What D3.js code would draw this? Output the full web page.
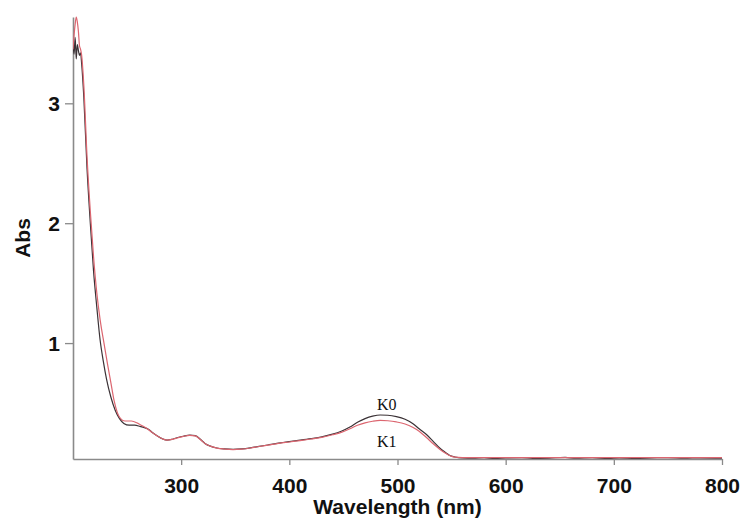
<!DOCTYPE html>
<html>
<head>
<meta charset="utf-8">
<script src="https://cdn.jsdelivr.net/npm/d3@7/dist/d3.min.js"></script>
<style>
    body { margin: 0; background: #fff; }
    svg { display: block; }
    .tickLabel { font-family: "Liberation Sans", Arial, sans-serif; font-weight: bold; font-size: 21px; fill: #111; }
    .curveLabel { font-family: "Liberation Serif", "Times New Roman", serif; font-size: 16px; fill: #111; }
</style>
</head>
<body>
<div id="chartDiv"></div>
<script>
// spectra (nm / Abs)
var k0Wavelength = [200, 201, 202, 203, 204, 205, 206, 207, 208, 210, 213, 216, 219, 222, 225, 228, 231, 235, 239, 243, 247, 252, 257, 262, 266, 270, 274, 278, 283, 287, 292, 297, 302, 308, 313, 318, 322, 327, 333, 340, 348, 356, 364, 372, 380, 390, 400, 410, 420, 430, 440, 448, 456, 463, 470, 477, 484, 491, 499, 507, 514, 520, 527, 533, 539, 544, 548, 553, 560, 570, 580, 590, 600, 615, 625, 640, 655, 665, 680, 695, 705, 720, 735, 750, 765, 780, 800];
var k0Abs = [3.50, 3.41, 3.55, 3.37, 3.49, 3.44, 3.40, 3.42, 3.33, 3.05, 2.45, 2.00, 1.60, 1.30, 1.03, 0.85, 0.70, 0.55, 0.44, 0.37, 0.33, 0.315, 0.315, 0.305, 0.295, 0.28, 0.25, 0.225, 0.20, 0.19, 0.198, 0.212, 0.223, 0.232, 0.228, 0.195, 0.163, 0.14, 0.125, 0.117, 0.113, 0.117, 0.126, 0.138, 0.15, 0.165, 0.178, 0.19, 0.203, 0.218, 0.24, 0.265, 0.30, 0.34, 0.37, 0.39, 0.40, 0.398, 0.387, 0.365, 0.33, 0.285, 0.235, 0.18, 0.125, 0.09, 0.065, 0.05, 0.042, 0.040, 0.044, 0.038, 0.042, 0.045, 0.039, 0.041, 0.046, 0.040, 0.044, 0.038, 0.043, 0.039, 0.042, 0.045, 0.040, 0.043, 0.041];

var k1Wavelength = [200, 201, 202, 203, 204, 205, 206, 207, 208, 210, 213, 216, 219, 222, 225, 229, 232, 235, 238, 241, 244, 248, 254, 260, 264, 268, 273, 278, 283, 287, 292, 297, 302, 308, 313, 318, 322, 327, 333, 340, 348, 356, 364, 372, 380, 390, 400, 410, 420, 430, 440, 448, 456, 463, 470, 477, 484, 491, 499, 507, 514, 520, 527, 533, 539, 544, 548, 553, 560, 580, 600, 630, 660, 700, 740, 780, 800];
var k1Abs = [3.45, 3.57, 3.66, 3.72, 3.68, 3.60, 3.48, 3.45, 3.40, 3.15, 2.55, 2.10, 1.72, 1.42, 1.20, 0.98, 0.82, 0.67, 0.52, 0.42, 0.37, 0.35, 0.35, 0.33, 0.31, 0.29, 0.255, 0.225, 0.20, 0.19, 0.197, 0.21, 0.222, 0.23, 0.226, 0.193, 0.162, 0.14, 0.124, 0.116, 0.112, 0.116, 0.125, 0.137, 0.148, 0.163, 0.175, 0.187, 0.2, 0.214, 0.235, 0.255, 0.285, 0.315, 0.335, 0.348, 0.355, 0.352, 0.342, 0.325, 0.298, 0.265, 0.21, 0.16, 0.115, 0.083, 0.062, 0.048, 0.045, 0.044, 0.045, 0.044, 0.045, 0.044, 0.045, 0.044, 0.045];

var xTicks = [300, 400, 500, 600, 700, 800];
var yTicks = [1, 2, 3];
var seriesNames = ["K0", "K1"];

var width = 744, height = 520;
// plot box (window.top is reserved, so no bare "top")
var plotLeft = 73, plotRight = 722, plotTop = 17, plotBottom = 459;

var svg = d3.select("#chartDiv").append("svg")
    .attr("width", width)
    .attr("height", height);

var x = d3.scaleLinear().domain([200, 800]).range([plotLeft, plotRight]);
var y = d3.scaleLinear().domain([0.033, 3.72]).range([plotBottom, plotTop]);

svg.append("clipPath")
    .attr("id", "plotClip")
    .append("rect")
    .attr("x", plotLeft)
    .attr("y", plotTop - 2)
    .attr("width", plotRight - plotLeft)
    .attr("height", plotBottom - plotTop + 2);

// axes
var xAxis = svg.append("g")
    .attr("transform", "translate(0," + plotBottom + ")")
    .call(d3.axisBottom(x).tickValues(xTicks).tickSizeInner(6).tickSizeOuter(0).tickPadding(8));
var yAxis = svg.append("g")
    .attr("transform", "translate(" + plotLeft + ",0)")
    .call(d3.axisLeft(y).tickValues(yTicks).tickFormat(d3.format("d")).tickSizeInner(8).tickSizeOuter(0).tickPadding(5));

[xAxis, yAxis].forEach(function (a) {
    a.select(".domain").attr("stroke", "#8a8a8a").attr("stroke-width", 1.6);
    a.selectAll(".tick line").attr("stroke", "#8a8a8a").attr("stroke-width", 1.3);
    a.selectAll(".tick text").attr("class", "tickLabel").attr("fill", null);
});
xAxis.selectAll(".tick text").attr("dy", "0.95em");
yAxis.selectAll(".tick text").attr("dy", "0.36em");

// curves
var line = d3.line()
    .x(function (d) { return x(d[0]); })
    .y(function (d) { return y(d[1]); })
    .curve(d3.curveMonotoneX);

var k0Data = k0Wavelength.map(function (w, i) { return [w, k0Abs[i]]; });
var k1Data = k1Wavelength.map(function (w, i) { return [w, k1Abs[i]]; });

var plot = svg.append("g").attr("clip-path", "url(#plotClip)");
plot.append("path")
    .attr("d", line(k0Data))
    .attr("fill", "none")
    .attr("stroke", "#3b3236")
    .attr("stroke-width", 1.2);
plot.append("path")
    .attr("d", line(k1Data))
    .attr("fill", "none")
    .attr("stroke", "#dc6670")
    .attr("stroke-width", 1.2);

// curve labels
svg.append("text")
    .attr("class", "curveLabel")
    .attr("x", x(490))
    .attr("y", y(0.44))
    .attr("text-anchor", "middle")
    .text(seriesNames[0]);
svg.append("text")
    .attr("class", "curveLabel")
    .attr("x", x(490))
    .attr("y", y(0.135))
    .attr("text-anchor", "middle")
    .text(seriesNames[1]);

// axis titles
svg.append("text")
    .attr("class", "tickLabel")
    .attr("x", (plotLeft + plotRight) / 2)
    .attr("y", 514)
    .attr("text-anchor", "middle")
    .text("Wavelength (nm)");
svg.append("text")
    .attr("class", "tickLabel")
    .attr("transform", "translate(30," + (plotTop + plotBottom) / 2 + ") rotate(-90)")
    .attr("text-anchor", "middle")
    .text("Abs");
</script>
</body>
</html>
